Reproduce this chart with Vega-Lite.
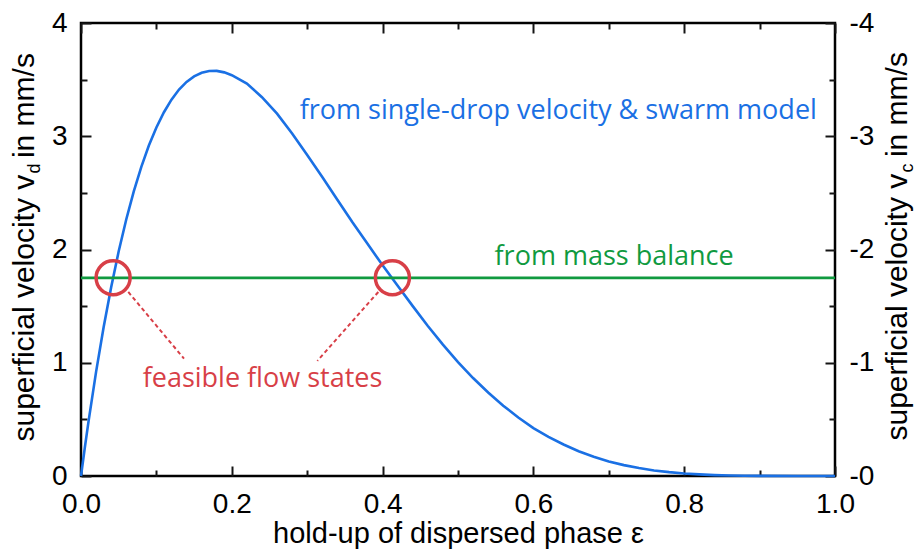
{
  "$schema": "https://vega.github.io/schema/vega-lite/v6.json",
  "width": 754,
  "height": 453,
  "autosize": "none",
  "padding": {"left": 81, "top": 23, "right": 85, "bottom": 76},
  "background": "white",
  "view": {"stroke": "black", "strokeWidth": 2.5},
  "config": {
    "axis": {
      "grid": false,
      "domain": false,
      "labelFont": "Liberation Sans",
      "labelFontSize": 28,
      "labelColor": "black",
      "titleFont": "Liberation Sans",
      "titleFontSize": 30,
      "titleFontWeight": "normal",
      "titleColor": "black",
      "labelFlush": false,
      "labelOverlap": false
    }
  },
  "datasets": {
    "curve": [
      {"eps": 0, "v": 0}, {"eps": 0.005, "v": 0.247}, {"eps": 0.01, "v": 0.482}, {"eps": 0.02, "v": 0.919},
      {"eps": 0.03, "v": 1.313}, {"eps": 0.04, "v": 1.667}, {"eps": 0.05, "v": 1.984}, {"eps": 0.06, "v": 2.265},
      {"eps": 0.07, "v": 2.513}, {"eps": 0.08, "v": 2.73}, {"eps": 0.09, "v": 2.918}, {"eps": 0.1, "v": 3.078},
      {"eps": 0.11, "v": 3.212}, {"eps": 0.12, "v": 3.323}, {"eps": 0.13, "v": 3.412}, {"eps": 0.14, "v": 3.48},
      {"eps": 0.15, "v": 3.529}, {"eps": 0.16, "v": 3.561}, {"eps": 0.17, "v": 3.576}, {"eps": 0.18, "v": 3.577},
      {"eps": 0.19, "v": 3.564}, {"eps": 0.2, "v": 3.539}, {"eps": 0.22, "v": 3.465}, {"eps": 0.24, "v": 3.345},
      {"eps": 0.26, "v": 3.2}, {"eps": 0.28, "v": 3.025}, {"eps": 0.3, "v": 2.835}, {"eps": 0.32, "v": 2.64},
      {"eps": 0.34, "v": 2.44}, {"eps": 0.36, "v": 2.24}, {"eps": 0.38, "v": 2.05}, {"eps": 0.4, "v": 1.86},
      {"eps": 0.42, "v": 1.68}, {"eps": 0.44, "v": 1.5}, {"eps": 0.46, "v": 1.325}, {"eps": 0.48, "v": 1.16},
      {"eps": 0.5, "v": 1.005}, {"eps": 0.52, "v": 0.865}, {"eps": 0.54, "v": 0.737}, {"eps": 0.56, "v": 0.621},
      {"eps": 0.58, "v": 0.517}, {"eps": 0.6, "v": 0.423}, {"eps": 0.62, "v": 0.346}, {"eps": 0.64, "v": 0.278},
      {"eps": 0.66, "v": 0.219}, {"eps": 0.68, "v": 0.17}, {"eps": 0.7, "v": 0.129}, {"eps": 0.72, "v": 0.096},
      {"eps": 0.74, "v": 0.07}, {"eps": 0.76, "v": 0.049}, {"eps": 0.78, "v": 0.034}, {"eps": 0.8, "v": 0.022},
      {"eps": 0.82, "v": 0.014}, {"eps": 0.84, "v": 0.008}, {"eps": 0.86, "v": 0.004}, {"eps": 0.88, "v": 0.002},
      {"eps": 0.9, "v": 0.001}, {"eps": 0.95, "v": 0}, {"eps": 1.0, "v": 0}
    ],
    "balance": [{"eps": 0, "v": 1.75}, {"eps": 1, "v": 1.75}],
    "states": [{"eps": 0.0426, "v": 1.75}, {"eps": 0.413, "v": 1.75}],
    "pointers": [
      {"x1": 0.0627, "y1": 1.625, "x2": 0.1366, "y2": 1.036},
      {"x1": 0.3943, "y1": 1.625, "x2": 0.3134, "y2": 1.016}
    ],
    "labels": [
      {"eps": 0.633, "v": 3.15, "text": "from single-drop velocity & swarm model", "series": "model"},
      {"eps": 0.707, "v": 1.86, "text": "from mass balance", "series": "balance"},
      {"eps": 0.2407, "v": 0.786, "text": "feasible flow states", "series": "states"}
    ]
  },
  "layer": [
    {
      "data": {"name": "curve"},
      "mark": {"type": "line", "color": "#1a70e4", "strokeWidth": 2.6},
      "encoding": {
        "x": {
          "field": "eps", "type": "quantitative",
          "scale": {"domain": [0, 1], "nice": false, "zero": false},
          "axis": {
            "orient": "bottom", "values": [0, 0.2, 0.4, 0.6, 0.8, 1.0], "format": ".1f",
            "ticks": true, "tickSize": -10, "tickColor": "#141414", "tickWidth": 2, "labelPadding": 24,
            "title": "hold-up of dispersed phase ε", "titleFontSize": 29,
            "titleX": 377, "titleY": 66, "titleAlign": "center", "titleBaseline": "alphabetic"
          }
        },
        "y": {
          "field": "v", "type": "quantitative",
          "scale": {"domain": [0, 4], "nice": false, "zero": false},
          "axis": {
            "orient": "left", "values": [0, 1, 2, 3, 4],
            "ticks": true, "tickSize": -10, "tickColor": "#141414", "tickWidth": 2, "labelPadding": 24,
            "title": "superficial velocity v\u00a0\u00a0in mm/s",
            "titleAngle": 270, "titleAlign": "left", "titleBaseline": "alphabetic",
            "titleX": -48, "titleY": 418
          }
        }
      }
    },
    {
      "data": {"name": "balance"},
      "mark": {"type": "line", "color": "#109a40", "strokeWidth": 2.8},
      "encoding": {
        "x": {
          "field": "eps", "type": "quantitative",
          "axis": {"orient": "top", "values": [0, 0.2, 0.4, 0.6, 0.8, 1.0], "labels": false, "ticks": true, "tickSize": -10, "tickColor": "#141414", "tickWidth": 2, "title": null}
        },
        "y": {
          "field": "v", "type": "quantitative",
          "axis": {
            "orient": "right", "values": [0, 1, 2, 3, 4],
            "labelExpr": "'-' + datum.value",
            "ticks": true, "tickSize": -10, "tickColor": "#141414", "tickWidth": 2, "labelPadding": 24,
            "title": "superficial velocity v\u00a0\u00a0in mm/s",
            "titleAngle": 270, "titleAlign": "left", "titleBaseline": "alphabetic",
            "titleX": 71, "titleY": 417
          }
        }
      }
    },
    {
      "data": {"name": "states"},
      "mark": {"type": "point", "shape": "circle", "filled": false, "color": "#d83f47", "strokeWidth": 3.5, "size": 1156, "opacity": 1},
      "encoding": {
        "x": {
          "field": "eps", "type": "quantitative",
          "axis": {"orient": "bottom", "values": [0.1, 0.3, 0.5, 0.7, 0.9], "labels": false, "ticks": true, "tickSize": -6, "tickColor": "#141414", "tickWidth": 2, "title": null}
        },
        "y": {
          "field": "v", "type": "quantitative",
          "axis": {
            "orient": "left", "values": [0.5, 1.5, 2.5, 3.5], "labels": false, "ticks": true, "tickSize": -6, "tickColor": "#141414", "tickWidth": 2,
            "title": "d", "titleFontSize": 18,
            "titleAngle": 270, "titleAlign": "left", "titleBaseline": "alphabetic",
            "titleX": -42, "titleY": 150
          }
        }
      }
    },
    {
      "data": {"name": "pointers"},
      "mark": {"type": "rule", "color": "#d83f47", "strokeWidth": 2, "strokeDash": [4, 3]},
      "encoding": {
        "x": {
          "field": "x1", "type": "quantitative",
          "axis": {"orient": "top", "values": [0.1, 0.3, 0.5, 0.7, 0.9], "labels": false, "ticks": true, "tickSize": -6, "tickColor": "#141414", "tickWidth": 2, "title": null}
        },
        "y": {
          "field": "y1", "type": "quantitative",
          "axis": {
            "orient": "right", "values": [0.5, 1.5, 2.5, 3.5], "labels": false, "ticks": true, "tickSize": -6, "tickColor": "#141414", "tickWidth": 2,
            "title": "c", "titleFontSize": 18,
            "titleAngle": 270, "titleAlign": "left", "titleBaseline": "alphabetic",
            "titleX": 77, "titleY": 149
          }
        },
        "x2": {"field": "x2"},
        "y2": {"field": "y2"}
      }
    },
    {
      "data": {"name": "labels"},
      "mark": {"type": "text", "font": "Open Sans", "fontSize": 27, "align": "center", "baseline": "alphabetic"},
      "encoding": {
        "x": {"field": "eps", "type": "quantitative", "axis": null},
        "y": {"field": "v", "type": "quantitative", "axis": null},
        "text": {"field": "text"},
        "color": {
          "field": "series", "type": "nominal",
          "scale": {"domain": ["model", "balance", "states"], "range": ["#1a70e4", "#109a40", "#d83f47"]},
          "legend": null
        }
      }
    }
  ],
  "resolve": {"axis": {"x": "independent", "y": "independent"}}
}
